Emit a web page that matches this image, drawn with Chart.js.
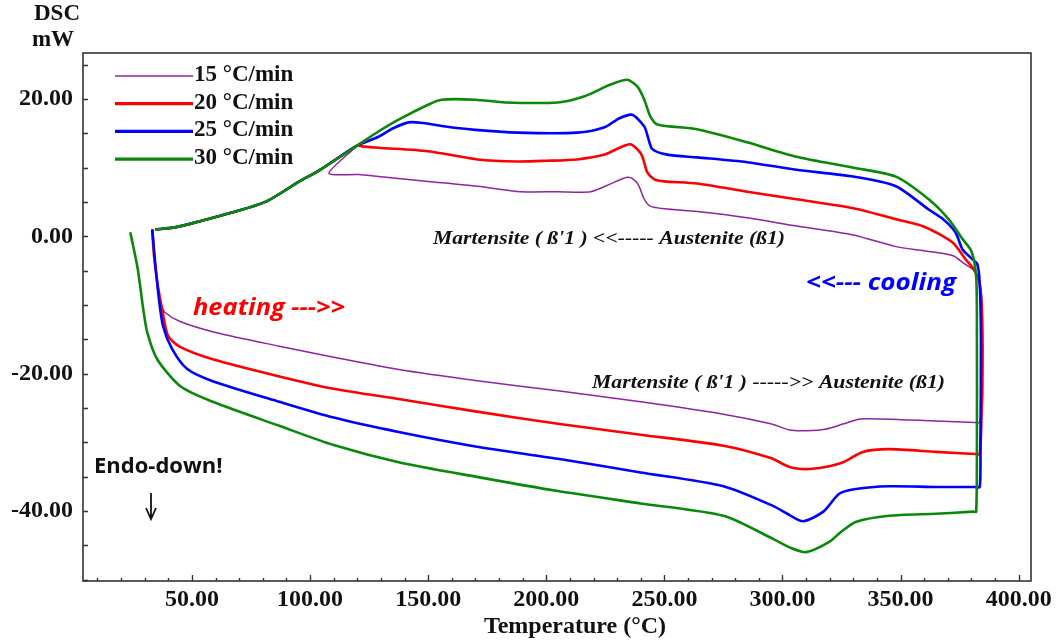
<!DOCTYPE html>
<html>
<head>
<meta charset="utf-8">
<script src="https://cdn.jsdelivr.net/npm/chart.js@4.4.1/dist/chart.umd.min.js"></script>
<style>
html, body { margin: 0; padding: 0; background: #fff; }
#wrap { width: 1056px; height: 644px; }
</style>
</head>
<body>
<div id="wrap"><canvas id="dsc" width="1056" height="644"></canvas></div>
<script>
// heating rates, legend order
var rates = ['15 °C/min', '20 °C/min', '25 °C/min', '30 °C/min'];
var colors = ['#8e24a0', '#ff0000', '#0000ff', '#0a880a'];
var widths = [1.5, 2.6, 2.6, 2.6];

// common part of the cooling curves (left end)
var tailT = [119.9, 103.9, 95.5, 81.6, 67.3, 53.4, 42.8, 34.4];
var tailQ = [13.2, 9.6, 8.0, 5.1, 3.5, 2.2, 1.3, 1.0];

// 15 °C/min : heating -> up at ~383 °C -> cooling
var t15 = [33.5, 34.2, 35.5, 37.0, 38.6, 45, 60, 87, 110, 137.5, 170, 204.9, 240, 275, 295, 303, 310, 318, 326, 333, 350, 365, 381.6,
           383.5, 384.8, 384.5, 383, 380.5, 377.4, 372, 360, 348, 330, 305.9, 285, 263.8, 250, 244, 241.5, 239, 236.5, 234.3, 231, 227, 218.8, 205, 189.3, 171, 150, 129, 120.7, 108];
var q15 = [1.0, -3.0, -7.5, -10.0, -11.1, -12.4, -14.0, -16.0, -17.6, -19.4, -21.0, -22.5, -24.1, -25.9, -27.3, -28.2, -28.3, -28.1, -27.3, -26.6, -26.7, -26.9, -27.1,
           -27.1, -23, -10, -6, -4.8, -4.1, -2.8, -2.1, -1.5, 0.2, 1.5, 2.7, 3.6, 4.0, 4.4, 5.4, 7.5, 8.4, 8.6, 8.2, 7.6, 6.5, 6.5, 6.5, 7.3, 8.0, 8.7, 9.0, 9.2];

// 20 °C/min
var t20 = [33.2, 34.0, 35.5, 37.4, 39.9, 45, 58.8, 87, 110, 137.5, 170, 204.9, 240, 275, 295, 303, 310, 318, 325.7, 334, 345, 365, 381.6,
           383.5, 384.3, 384.5, 383.5, 381, 377.4, 372, 360, 348, 330, 305.9, 285, 263.8, 250, 245.7, 242.8, 241, 239.8, 235.6, 231, 224.7, 213, 200, 188, 171, 150, 129, 122];
var q20 = [1.0, -3.0, -7.0, -10.6, -14.5, -16.1, -17.9, -20.4, -22.2, -23.7, -25.5, -27.3, -28.9, -30.5, -32.3, -33.6, -33.9, -33.6, -32.9, -31.4, -31.0, -31.4, -31.7,
           -31.7, -25, -12, -7, -4.8, -3.3, -0.9, 1.4, 2.5, 4.1, 5.4, 6.5, 7.7, 8.0, 8.3, 9.3, 11.3, 12.2, 13.4, 12.9, 11.9, 11.2, 11.0, 10.9, 11.2, 12.4, 12.9, 13.1];

// 25 °C/min
var t25 = [33.2, 34.5, 36.0, 37.8, 41.6, 47.9, 58.8, 87, 110, 137.5, 170, 204.9, 240, 275, 296.2, 303, 308.8, 317.3, 324, 331, 345, 365, 381.6,
           383.5, 383.8, 384, 383.5, 382.5, 380, 376.2, 373.2, 368, 361.9, 348, 330, 305.9, 285, 263.8, 251.2, 244.9, 243, 241.5, 236.4, 231, 224.7, 213, 188, 170, 157.3, 148, 141.7, 135, 129];
var q25 = [1.0, -4.0, -9.0, -13.1, -16.4, -19.3, -21.1, -24.1, -26.4, -28.5, -30.6, -32.4, -34.4, -36.4, -39.3, -40.6, -41.5, -40.1, -37.5, -36.8, -36.4, -36.5, -36.5,
           -36.5, -30, -15, -7, -4.1, -3.2, -1.9, 0.6, 2.5, 3.9, 7.3, 8.7, 9.7, 10.8, 11.5, 11.9, 12.7, 14.5, 16.0, 17.7, 17.2, 15.9, 15.1, 15.1, 15.5, 16.0, 16.5, 16.6, 15.7, 14.5];

// 30 °C/min
var t30 = [23.9, 25.5, 26.9, 28.2, 29.4, 31.1, 35.3, 45, 58.8, 87, 110, 137.5, 170, 204.9, 240, 275, 296.2, 303, 310, 319.8, 325, 331, 345, 365, 380.8,
           382, 382.3, 382.3, 382, 380, 376.2, 370.3, 361.9, 348, 330, 305.9, 285, 263.8, 247, 244, 241.5, 238.6, 234.3, 227.2, 216.2, 204.9, 182.6, 170, 155.6, 150.2, 137.5, 129.1];
var q30 = [0.6, -2.0, -4.4, -7.5, -10.6, -14.0, -17.9, -21.8, -24.1, -27.6, -30.4, -32.9, -35.0, -37.1, -38.9, -40.7, -44.1, -45.3, -46.0, -44.5, -43.0, -41.6, -40.7, -40.4, -40.1,
           -40.1, -30, -15, -6, -2.2, -0.4, 2.5, 5.4, 8.7, 10.0, 11.6, 13.7, 15.6, 16.3, 17.5, 19.9, 21.8, 22.8, 22.1, 20.4, 19.5, 19.5, 19.9, 19.9, 19.2, 17.0, 15.3];

var xTicks = [50, 100, 150, 200, 250, 300, 350, 400];
var yTicks = [-40, -20, 0, 20];

function toPoints(t, q) {
  var pts = t.map(function(v, i) { return {x: v, y: q[i]}; });
  tailT.forEach(function(v, i) { pts.push({x: v, y: tailQ[i]}); });
  return pts;
}

var series = [toPoints(t15, q15), toPoints(t20, q20), toPoints(t25, q25), toPoints(t30, q30)];

var serif = '"Liberation Serif", "Times New Roman", serif';
var sans = '"Open Sans", "DejaVu Sans", sans-serif';

// draw a text stretched to a given width
function fitText(ctx, text, x, y, w) {
  var m = ctx.measureText(text).width;
  ctx.save();
  ctx.translate(x, y);
  ctx.scale(w / m, 1);
  ctx.fillText(text, 0, 0);
  ctx.restore();
}

// frame, inner ticks, legend and notes
var overlay = {
  id: 'overlay',
  afterDraw: function(chart) {
    var ctx = chart.ctx, a = chart.chartArea;
    var xs = chart.scales.x, ys = chart.scales.y;
    ctx.save();
    ctx.strokeStyle = '#333';
    ctx.lineWidth = 1.6;
    ctx.strokeRect(a.left, a.top, a.right - a.left, a.bottom - a.top);

    ctx.lineWidth = 1.4;
    ctx.beginPath();
    for (var t = 10; t <= 400; t += 10) {
      var px = Math.round(xs.getPixelForValue(t)) + 0.5;
      var len = t % 50 === 0 ? 6 : 3;
      ctx.moveTo(px, a.bottom);
      ctx.lineTo(px, a.bottom - len);
    }
    for (var v = -50; v <= 25; v += 5) {
      var py = Math.round(ys.getPixelForValue(v)) + 0.5;
      ctx.moveTo(a.left, py);
      ctx.lineTo(a.left + 5, py);
    }
    ctx.stroke();

    // legend
    ctx.textBaseline = 'middle';
    ctx.textAlign = 'left';
    ctx.font = 'bold 23px ' + serif;
    rates.forEach(function(r, i) {
      var y = 75 + i * 27.7;
      ctx.strokeStyle = colors[i];
      ctx.lineWidth = i === 0 ? 1.5 : 3.2;
      ctx.beginPath();
      ctx.moveTo(115, y + 1);
      ctx.lineTo(193, y + 1);
      ctx.stroke();
      ctx.fillStyle = '#111';
      ctx.fillText(r, 194, y);
    });

    // axis titles
    ctx.fillStyle = '#111';
    ctx.textAlign = 'center';
    ctx.font = 'bold 23px ' + serif;
    ctx.fillText('DSC', 57, 14);
    ctx.fillText('mW', 53, 40);
    ctx.font = 'bold 24px ' + serif;
    ctx.fillText('Temperature (°C)', 575, 627);

    // notes
    ctx.textAlign = 'left';
    ctx.font = 'italic bold 19px ' + serif;
    fitText(ctx, "Martensite ( ß'1 ) <<----- Austenite (ß1)", 433, 239, 352);
    fitText(ctx, "Martensite ( ß'1 ) ----->> Austenite (ß1)", 592, 383, 353);
    ctx.font = 'italic bold 23px ' + sans;
    ctx.fillStyle = '#ff0000';
    fitText(ctx, 'heating --->>', 193, 308, 152);
    ctx.fillStyle = '#0000ff';
    fitText(ctx, '<<--- cooling', 806, 283, 150);
    ctx.fillStyle = '#111';
    ctx.font = 'bold 22px ' + sans;
    ctx.fillText('Endo-down!', 94, 467);

    // small arrow under the note
    ctx.strokeStyle = '#111';
    ctx.lineWidth = 1.8;
    ctx.beginPath();
    ctx.moveTo(151, 493);
    ctx.lineTo(151, 519);
    ctx.moveTo(146, 508);
    ctx.lineTo(151, 519);
    ctx.lineTo(156, 508);
    ctx.stroke();
    ctx.restore();
  }
};

var chart = new Chart('dsc', {
  type: 'line',
  data: {
    datasets: series.map(function(pts, i) {
      return {
        label: rates[i],
        data: pts,
        borderColor: colors[i],
        backgroundColor: colors[i],
        borderWidth: widths[i],
        pointRadius: 0,
        fill: false,
        tension: 0.25,
        order: 3 - i
      };
    })
  },
  options: {
    responsive: false,
    animation: false,
    layout: { padding: { top: 53, right: 21, left: 0, bottom: 0 } },
    plugins: { legend: { display: false }, tooltip: { enabled: false } },
    scales: {
      x: {
        type: 'linear',
        min: 3.9,
        max: 405.2,
        afterFit: function(s) { s.height = 63; },
        afterBuildTicks: function(s) { s.ticks = xTicks.map(function(v) { return {value: v}; }); },
        grid: { display: false, drawTicks: false },
        border: { display: false },
        ticks: {
          padding: 4,
          color: '#111',
          font: { family: serif, size: 24, weight: 'bold' },
          callback: function(v) { return v.toFixed(2); }
        }
      },
      y: {
        type: 'linear',
        min: -50.2,
        max: 26.7,
        afterFit: function(s) { s.width = 83; },
        afterBuildTicks: function(s) { s.ticks = yTicks.map(function(v) { return {value: v}; }); },
        grid: { display: false, drawTicks: false },
        border: { display: false },
        ticks: {
          padding: 10,
          color: '#111',
          font: { family: serif, size: 24, weight: 'bold' },
          callback: function(v) { return v.toFixed(2); }
        }
      }
    }
  },
  plugins: [overlay]
});
</script>
</body>
</html>
